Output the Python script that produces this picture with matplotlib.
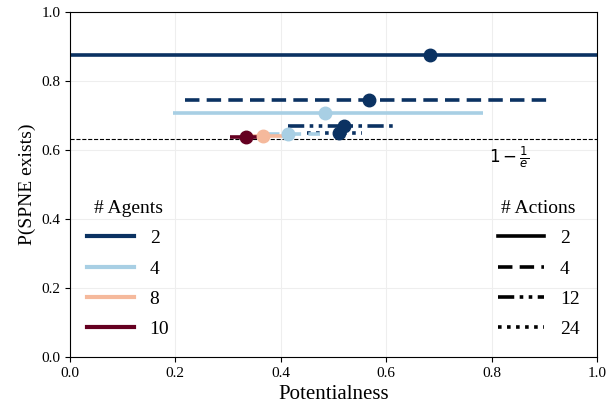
import matplotlib.pyplot as plt
from matplotlib.lines import Line2D
import numpy as np

plt.rcParams['font.family'] = ['Liberation Serif', 'DejaVu Serif']
plt.rcParams['mathtext.fontset'] = 'dejavusans'

# one row per (agents, actions) setting
agents  = [2, 2, 2, 2, 4, 4, 8, 10]
actions = [2, 4, 12, 24, 2, 4, 2, 2]
pot_mean = [0.683, 0.567, 0.520, 0.511, 0.484, 0.414, 0.366, 0.334]
pot_min  = [0.0, 0.218, 0.414, 0.450, 0.195, 0.370, 0.342, 0.304]
pot_max  = [1.0, 0.907, 0.617, 0.555, 0.783, 0.475, 0.421, 0.364]
p_spne   = [0.876, 0.745, 0.670, 0.649, 0.707, 0.645, 0.641, 0.638]

agent_levels = [2, 4, 8, 10]
action_levels = [2, 4, 12, 24]

agent_colors = {2: '#0b3262', 4: '#a8cfe4', 8: '#f5b99c', 10: '#650021'}
action_styles = {2: '-', 4: (0, (4, 2)), 12: (0, (4.5, 1.5, 1, 1.5, 1, 1.5)), 24: (0, (1, 1.5))}

fig = plt.figure(figsize=(6.08, 4.09), dpi=100)
ax = fig.add_axes([0.115, 0.127, 0.867, 0.844])

for a, k, m, lo, hi, y in zip(agents, actions, pot_mean, pot_min, pot_max, p_spne):
    c = agent_colors[a]
    ax.plot([lo, hi], [y, y], color=c, linestyle=action_styles[k], lw=2.6,
            solid_capstyle='butt', dash_capstyle='butt', zorder=2)
    ax.plot(m, y, 'o', color=c, markersize=9, zorder=3)

ax.axhline(1 - 1 / np.e, color='black', linestyle='--', lw=0.8, zorder=1)
ax.text(0.795, 0.578, r'$1-\frac{1}{e}$', fontsize=12, va='center')

ax.set_xlim(0, 1)
ax.set_ylim(0, 1)
ax.set_xticks(np.arange(0, 1.01, 0.2))
ax.set_yticks(np.arange(0, 1.01, 0.2))
ax.tick_params(labelsize=11)
ax.set_xlabel('Potentialness', fontsize=15)
ax.set_ylabel('P(SPNE exists)', fontsize=14)
ax.grid(True, color='#eeeeee', lw=0.8)
ax.set_axisbelow(True)

h_agents = [Line2D([], [], color=agent_colors[a], lw=3) for a in agent_levels]
h_actions = [Line2D([], [], color='black', lw=2.6, linestyle=action_styles[k]) for k in action_levels]

leg1 = ax.legend(h_agents, [str(a) for a in agent_levels], title='# Agents',
                 loc='center left', bbox_to_anchor=(0.0, 0.255), frameon=False,
                 fontsize=14, title_fontsize=14, handlelength=2.4, labelspacing=0.65)
ax.add_artist(leg1)
ax.legend(h_actions, [str(k) for k in action_levels], title='# Actions',
          loc='center right', bbox_to_anchor=(1.0, 0.255), frameon=False,
          fontsize=14, title_fontsize=14, handlelength=2.4, labelspacing=0.65)

fig.savefig('out.png', dpi=100)
